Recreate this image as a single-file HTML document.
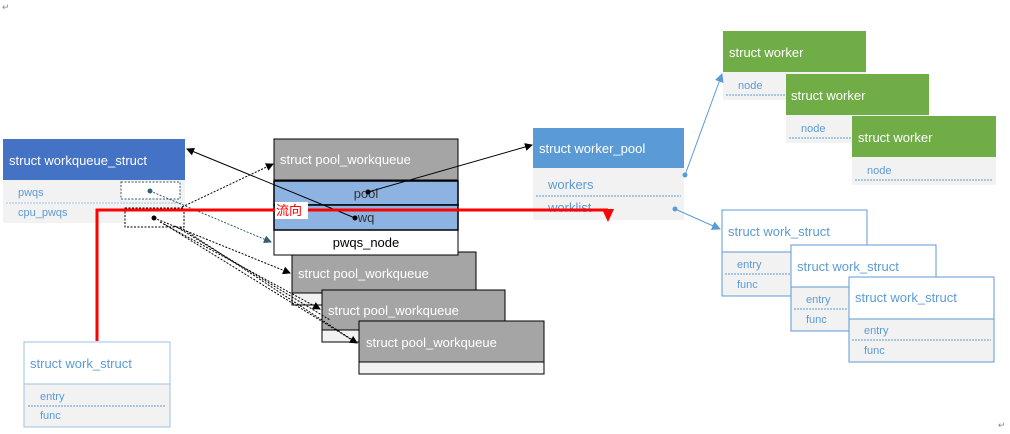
<!DOCTYPE html>
<html><head><meta charset="utf-8"><style>
html,body{margin:0;padding:0;background:#fff}
svg{display:block}
text{font-family:"Liberation Sans","Noto Sans CJK SC",sans-serif}
</style></head><body>
<svg width="1010" height="434" viewBox="0 0 1010 434" xmlns="http://www.w3.org/2000/svg">
<defs>
<marker id="ab" markerWidth="8" markerHeight="8" refX="7" refY="4" orient="auto" markerUnits="userSpaceOnUse"><path d="M0,0 L8,4 L0,8z" fill="#000"/></marker>
<marker id="at" markerWidth="8" markerHeight="8" refX="7" refY="4" orient="auto" markerUnits="userSpaceOnUse"><path d="M0,0 L8,4 L0,8z" fill="#31606e"/></marker>
<marker id="abl" markerWidth="9" markerHeight="9" refX="8" refY="4.5" orient="auto" markerUnits="userSpaceOnUse"><path d="M0,0 L9,4.5 L0,9z" fill="#5b9bd5"/></marker>
</defs>

<!-- workqueue_struct -->
<rect x="3" y="139" width="182" height="41" fill="#4472c4"/>
<text x="9" y="165" font-size="13" fill="#fff">struct workqueue_struct</text>
<rect x="3" y="180" width="182" height="43" fill="#f2f2f2"/>
<text x="18" y="196" font-size="11" fill="#5b9bd5">pwqs</text>
<line x1="6" y1="203" x2="182" y2="203" stroke="#9dc3e6" stroke-dasharray="2,1"/>
<text x="18" y="216" font-size="11" fill="#5b9bd5">cpu_pwqs</text>
<rect x="121" y="182" width="59" height="17" fill="#fff" stroke="#31606e" stroke-dasharray="2,1.5"/>
<rect x="125" y="208" width="59" height="19" fill="#fff" stroke="#000" stroke-dasharray="2,1.5"/>

<!-- pool_workqueue stack -->
<rect x="359" y="321" width="185" height="53" fill="#f2f2f2" stroke="#000"/>
<rect x="322" y="290" width="183" height="52" fill="#f2f2f2" stroke="#000"/>
<rect x="292" y="252" width="184" height="53" fill="#f2f2f2" stroke="#000"/>
<rect x="292" y="252" width="184" height="41" fill="#a5a5a5" stroke="#000"/>
<text x="298" y="278" font-size="13" fill="#fff">struct pool_workqueue</text>
<rect x="322" y="290" width="183" height="40" fill="#a5a5a5" stroke="#000"/>
<text x="328" y="315" font-size="13" fill="#fff">struct pool_workqueue</text>
<rect x="359" y="321" width="185" height="41" fill="#a5a5a5" stroke="#000"/>
<text x="366" y="347" font-size="13" fill="#fff">struct pool_workqueue</text>

<rect x="274" y="139" width="184" height="116" fill="#fff" stroke="#000"/>
<rect x="274" y="139" width="184" height="41" fill="#a5a5a5" stroke="#000"/>
<text x="280" y="164" font-size="13" fill="#fff">struct pool_workqueue</text>
<rect x="274" y="181" width="184" height="24" fill="#8db3e2" stroke="#000" stroke-width="1.5"/>
<rect x="274" y="205" width="184" height="25" fill="#8db3e2" stroke="#000" stroke-width="1.5"/>
<text x="366" y="198" font-size="13" fill="#333" text-anchor="middle">pool</text>
<text x="366" y="222" font-size="13" fill="#333" text-anchor="middle">wq</text>
<text x="366" y="247" font-size="13" fill="#000" text-anchor="middle">pwqs_node</text>

<!-- worker_pool -->
<rect x="533" y="128" width="151" height="40" fill="#5b9bd5"/>
<text x="539" y="153" font-size="13" fill="#fff">struct worker_pool</text>
<rect x="533" y="168" width="151" height="52" fill="#f2f2f2"/>
<text x="548" y="189" font-size="13" fill="#5b9bd5">workers</text>
<line x1="536" y1="196" x2="681" y2="196" stroke="#5b9bd5" stroke-dasharray="2,1"/>
<text x="548" y="212" font-size="13" fill="#5b9bd5">worklist</text>

<!-- workers -->
<rect x="723" y="72" width="143" height="28" fill="#f2f2f2"/>
<text x="738" y="89" font-size="11" fill="#5b9bd5">node</text>
<line x1="726" y1="95" x2="790" y2="95" stroke="#5b9bd5" stroke-dasharray="2,1"/>
<rect x="723" y="31" width="143" height="41" fill="#70ad47"/>
<text x="729" y="57" font-size="13" fill="#fff">struct worker</text>
<rect x="786" y="115" width="143" height="28" fill="#f2f2f2"/>
<text x="801" y="132" font-size="11" fill="#5b9bd5">node</text>
<line x1="789" y1="138" x2="855" y2="138" stroke="#5b9bd5" stroke-dasharray="2,1"/>
<rect x="786" y="74" width="143" height="41" fill="#70ad47"/>
<text x="791" y="100" font-size="13" fill="#fff">struct worker</text>
<rect x="852" y="157" width="144" height="28" fill="#f2f2f2"/>
<text x="867" y="174" font-size="11" fill="#5b9bd5">node</text>
<line x1="855" y1="180" x2="993" y2="180" stroke="#5b9bd5" stroke-dasharray="2,1"/>
<rect x="852" y="116" width="144" height="41" fill="#70ad47"/>
<text x="858" y="142" font-size="13" fill="#fff">struct worker</text>

<!-- work_structs right -->
<g stroke="#5b9bd5" stroke-width="1">
<rect x="722" y="210" width="145" height="42" fill="#fff"/>
<rect x="722" y="252" width="145" height="44" fill="#f2f2f2"/>
</g>
<text x="728" y="236" font-size="13" fill="#5b9bd5">struct work_struct</text>
<text x="737" y="268" font-size="11" fill="#5b9bd5">entry</text>
<line x1="725" y1="274" x2="790" y2="274" stroke="#5b9bd5" stroke-dasharray="2,1"/>
<text x="737" y="288" font-size="11" fill="#5b9bd5">func</text>
<g stroke="#5b9bd5">
<rect x="791" y="245" width="145" height="42" fill="#fff"/>
<rect x="791" y="287" width="145" height="44" fill="#f2f2f2"/>
</g>
<text x="797" y="271" font-size="13" fill="#5b9bd5">struct work_struct</text>
<text x="806" y="303" font-size="11" fill="#5b9bd5">entry</text>
<line x1="794" y1="309" x2="848" y2="309" stroke="#5b9bd5" stroke-dasharray="2,1"/>
<text x="806" y="323" font-size="11" fill="#5b9bd5">func</text>
<g stroke="#5b9bd5">
<rect x="849" y="277" width="145" height="42" fill="#fff"/>
<rect x="849" y="319" width="145" height="43" fill="#f2f2f2"/>
</g>
<text x="855" y="302" font-size="13" fill="#5b9bd5">struct work_struct</text>
<text x="864" y="334" font-size="11" fill="#5b9bd5">entry</text>
<line x1="852" y1="340" x2="991" y2="340" stroke="#5b9bd5" stroke-dasharray="2,1"/>
<text x="864" y="354" font-size="11" fill="#5b9bd5">func</text>

<!-- work_struct bottom-left -->
<rect x="24" y="342" width="146" height="42" fill="#fff" stroke="#9dc3e6"/>
<rect x="24" y="384" width="146" height="43" fill="#f2f2f2" stroke="#9dc3e6"/>
<text x="30" y="368" font-size="13" fill="#5b9bd5">struct work_struct</text>
<text x="40" y="400" font-size="11" fill="#5b9bd5">entry</text>
<line x1="28" y1="406" x2="166" y2="406" stroke="#5b9bd5" stroke-dasharray="2,1"/>
<text x="40" y="419" font-size="11" fill="#5b9bd5">func</text>

<!-- connectors -->
<line x1="150" y1="191" x2="271" y2="242" stroke="#31606e" stroke-dasharray="2,1.5" marker-end="url(#at)"/>
<circle cx="150" cy="191" r="2.5" fill="#31606e"/>
<line x1="182" y1="207" x2="273" y2="164" stroke="#000" stroke-dasharray="2,1.5" marker-end="url(#ab)"/>
<g stroke="#000" stroke-dasharray="2,1.5" fill="none">
<line x1="154" y1="218" x2="290" y2="273" marker-end="url(#ab)"/>
<line x1="160" y1="222" x2="320" y2="309" marker-end="url(#ab)"/>
<line x1="164" y1="224" x2="357" y2="343" marker-end="url(#ab)"/>
<line x1="175" y1="226" x2="330" y2="320"/>
<line x1="180" y1="227" x2="357" y2="343"/>
</g>
<circle cx="154" cy="218" r="2.5" fill="#000"/>
<line x1="368" y1="192" x2="532" y2="145" stroke="#000" marker-end="url(#ab)"/>
<circle cx="368" cy="192" r="2.5" fill="#000"/>
<line x1="355" y1="218" x2="187" y2="149" stroke="#000" marker-end="url(#ab)"/>
<circle cx="355" cy="218" r="2.5" fill="#000"/>
<line x1="685" y1="175" x2="722" y2="74" stroke="#5b9bd5" marker-end="url(#abl)"/>
<circle cx="685" cy="175" r="2.5" fill="#5b9bd5"/>
<line x1="675" y1="209" x2="720" y2="229" stroke="#5b9bd5" marker-end="url(#abl)"/>
<circle cx="675" cy="209" r="2.5" fill="#5b9bd5"/>

<!-- red flow -->
<polyline points="97,341 97,210 608,210" fill="none" stroke="#ff0000" stroke-width="3"/>
<path d="M602,209 L614,209 L608,222z" fill="#ff0000"/>
<rect x="275" y="202" width="33" height="17" fill="#fff"/>
<text x="276" y="215" font-size="13" fill="#ff0000">流向</text>

<text x="2" y="10" font-size="9" fill="#888">↵</text>
<text x="998" y="428" font-size="9" fill="#888">↵</text>
</svg>
</body></html>
